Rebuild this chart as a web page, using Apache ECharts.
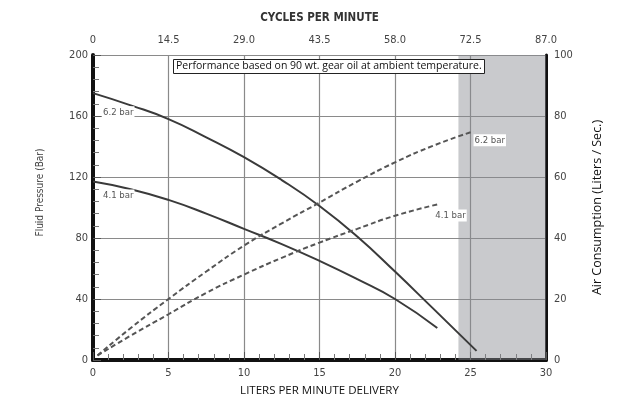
<!DOCTYPE html>
<html>
<head>
<meta charset="utf-8">
<script src="https://cdn.jsdelivr.net/npm/echarts@6/dist/echarts.min.js"></script>
<style>html,body{margin:0;padding:0;background:#fff}#c{width:617px;height:402px}</style>
</head>
<body>
<div id="c"></div>
<script>
// Data
var flowTicks = [0, 5, 10, 15, 20, 25, 30];
var cycleTicks = ['0', '14.5', '29.0', '43.5', '58.0', '72.5', '87.0'];
var flow62 = [0, 2.5, 5, 7.5, 10, 12.5, 15, 17.5, 20, 22.5, 25.4];
var pressure62 = [175, 167, 158, 146, 133, 118, 101, 81, 58, 34, 6];
var flow41 = [0, 2.5, 5, 7.5, 10, 12.5, 15, 17.5, 20, 22.8];
var pressure41 = [117, 112, 105, 96, 86, 76, 65, 53, 40, 21];
var airFlow62 = [0.3, 2.5, 5, 7.5, 10, 12.5, 15, 17.5, 20, 22.5, 25.2];
var air62 = [1.5, 10.5, 20, 29, 37.5, 44.8, 51.6, 58.5, 64.8, 70.2, 75];
var airFlow41 = [0.3, 2.5, 5, 7.5, 10, 12.5, 15, 17.5, 20, 22.8];
var air41 = [1.5, 8, 15, 22, 28, 33.5, 38.5, 43, 47.3, 51];
var shadedRange = [24.2, 30];
var seriesLabels = ['6.2 bar', '4.1 bar'];
var noteText = 'Performance based on 90 wt. gear oil at ambient temperature.';

var tickFont = '"DejaVu Sans Condensed", "Liberation Sans Narrow", "Open Sans", sans-serif';

function pairs(xs, ys, labelIdx, labelText, labelOpts) {
  return xs.map(function (x, i) {
    var item = { value: [x, ys[i]] };
    if (i === labelIdx) {
      item.label = Object.assign({
        show: true,
        formatter: labelText,
        color: '#555',
        fontSize: 9.5,
        fontFamily: tickFont,
        backgroundColor: '#fff',
        padding: [1, 1]
      }, labelOpts);
    }
    return item;
  });
}

var chart = echarts.init(document.getElementById('c'), null, { renderer: 'canvas' });
var lineBase = { type: 'line', xAxisIndex: 0, smooth: true, showSymbol: true, symbol: 'circle', symbolSize: 0, z: 3 };
chart.setOption({
  animation: false,
  backgroundColor: '#fff',
  title: {
    text: noteText,
    left: 173,
    top: 59,
    padding: [2, 3],
    borderColor: '#222',
    borderWidth: 1,
    backgroundColor: '#fff',
    textStyle: { fontSize: 10.5, fontWeight: 'normal', color: '#111', fontFamily: '"Open Sans", sans-serif' }
  },
  grid: { left: 93, right: 71, top: 55, bottom: 40 },
  xAxis: [
    {
      type: 'value', min: 0, max: 30, interval: 5, position: 'bottom',
      name: 'LITERS PER MINUTE DELIVERY', nameLocation: 'middle', nameGap: 25,
      nameTextStyle: { fontSize: 11.5, color: '#111', fontFamily: '"Open Sans", sans-serif' },
      axisLine: { show: true, onZero: false, lineStyle: { color: '#111', width: 4 } },
      axisTick: { show: true, inside: true, length: 8, lineStyle: { color: '#555' } },
      minorTick: { show: true, splitNumber: 5, length: 6, lineStyle: { color: '#777' } },
      axisLabel: { fontSize: 11, color: '#444', fontFamily: tickFont, margin: 8,
        formatter: function (v) { return flowTicks.indexOf(v) >= 0 ? String(v) : ''; } },
      splitLine: { show: true, lineStyle: { color: '#8a8a8a', width: 1.2 } }
    },
    {
      type: 'category', data: cycleTicks, boundaryGap: false, position: 'top',
      name: 'CYCLES PER MINUTE', nameLocation: 'middle', nameGap: 31,
      nameTextStyle: { fontSize: 11.5, color: '#333', fontFamily: tickFont, fontWeight: 'bold' },
      axisLine: { show: true, lineStyle: { color: '#111', width: 3 } },
      axisTick: { show: false },
      axisLabel: { fontSize: 11, color: '#444', fontFamily: tickFont, margin: 9 },
      splitLine: { show: false }
    }
  ],
  yAxis: [
    {
      type: 'value', min: 0, max: 200, interval: 40, position: 'left',
      name: 'Fluid Pressure (Bar)', nameLocation: 'middle', nameGap: 48, nameRotate: 90,
      nameTextStyle: { fontSize: 10, color: '#444', fontFamily: tickFont, padding: [0, 0, 0, 30] },
      axisLine: { show: true, onZero: false, lineStyle: { color: '#111', width: 4 } },
      axisTick: { show: true, inside: true, length: 8, lineStyle: { color: '#555' } },
      minorTick: { show: true, splitNumber: 5, length: 6, lineStyle: { color: '#777' } },
      axisLabel: { fontSize: 11, color: '#444', fontFamily: tickFont, margin: 5 },
      splitLine: { show: true, lineStyle: { color: '#8a8a8a', width: 1.2 } }
    },
    {
      type: 'value', min: 0, max: 100, interval: 20, position: 'right',
      name: 'Air Consumption (Liters / Sec.)', nameLocation: 'middle', nameGap: 45, nameRotate: 90,
      nameTextStyle: { fontSize: 12.5, color: '#111', fontFamily: '"Open Sans", sans-serif' },
      axisLine: { show: true, onZero: false, lineStyle: { color: '#111', width: 3 } },
      axisTick: { show: false },
      axisLabel: { fontSize: 11, color: '#444', fontFamily: tickFont, margin: 8 },
      splitLine: { show: false }
    }
  ],
  series: [
    Object.assign({}, lineBase, {
      name: 'Pressure 6.2 bar', yAxisIndex: 0,
      lineStyle: { color: '#3a3a3a', width: 2 },
      data: pairs(flow62, pressure62, 0, seriesLabels[0], { position: 'right', distance: 9, offset: [0, 19] }),
      markArea: {
        silent: true,
        itemStyle: { color: 'rgba(135,138,145,0.45)' },
        data: [[{ xAxis: shadedRange[0] }, { xAxis: shadedRange[1] }]]
      }
    }),
    Object.assign({}, lineBase, {
      name: 'Pressure 4.1 bar', yAxisIndex: 0,
      lineStyle: { color: '#3a3a3a', width: 2 },
      data: pairs(flow41, pressure41, 0, seriesLabels[1], { position: 'right', distance: 9, offset: [0, 14] })
    }),
    Object.assign({}, lineBase, {
      name: 'Air 6.2 bar', yAxisIndex: 1,
      lineStyle: { color: '#555', width: 2, type: [5, 3] },
      data: pairs(airFlow62, air62, airFlow62.length - 1, seriesLabels[0], { position: 'right', distance: 0, offset: [0, 9] })
    }),
    Object.assign({}, lineBase, {
      name: 'Air 4.1 bar', yAxisIndex: 1,
      lineStyle: { color: '#555', width: 2, type: [5, 3] },
      data: pairs(airFlow41, air41, airFlow41.length - 1, seriesLabels[1], { position: 'right', distance: 0, offset: [-3, 11] })
    })
  ]
});
</script>
</body>
</html>
